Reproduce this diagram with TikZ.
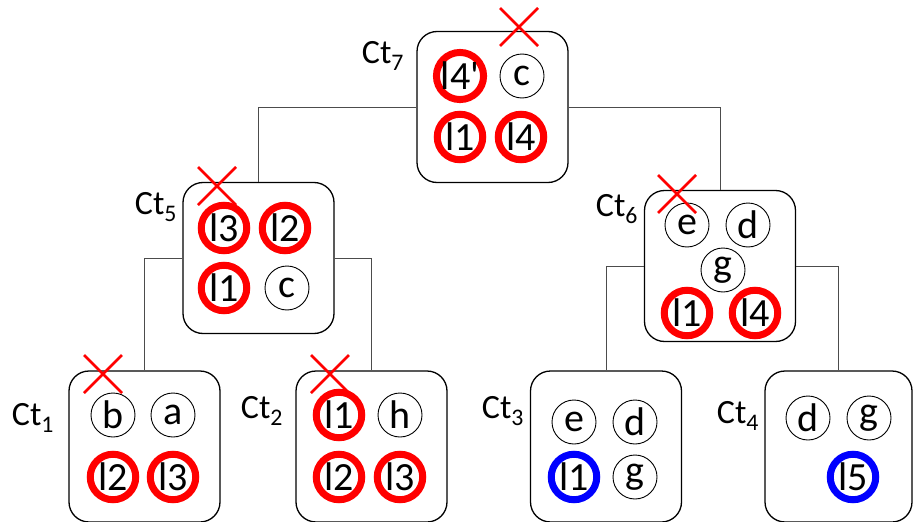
\documentclass[tikz,border=0pt]{standalone}
\usepackage{fontspec}
\setmainfont{Carlito}
\begin{document}
\begin{tikzpicture}[x=1pt,y=-1pt,
  box/.style={draw=black,line width=1.3pt,rounded corners=20pt,minimum width=151pt,minimum height=151pt,inner sep=0pt},
  lbl/.style={font=\fontsize{34}{36}\selectfont,inner sep=0pt},
  plainc/.style={circle,draw=black,line width=0.9pt,minimum size=44pt,inner sep=0pt,font=\fontsize{40}{42}\selectfont},
  redc/.style={circle,draw=red,line width=7pt,minimum size=45.5pt,inner sep=0pt,font=\fontsize{40}{42}\selectfont},
  bluec/.style={circle,draw=blue,line width=7pt,minimum size=45.5pt,inner sep=0pt,font=\fontsize{40}{42}\selectfont},
  conn/.style={draw=black!70,line width=0.9pt},
  xmark/.style={draw=red,line width=2.6pt}]
\useasboundingbox (0,0) rectangle (914,522);
% boxes
\node[box] (ct7) at (492.5,107) {};
\node[box] (ct5) at (258.5,258) {};
\node[box] (ct6) at (720,266) {};
\node[box] (ct1) at (144.5,446.5) {};
\node[box] (ct2) at (371.5,446.5) {};
\node[box] (ct3) at (606,446.5) {};
\node[box,minimum width=147pt] (ct4) at (838.5,446.5) {};
% connectors
\draw[conn] (ct7.west) -| (ct5.north);
\draw[conn] (ct7.east) -| (ct6.north);
\draw[conn] (ct5.west) -| (ct1.north);
\draw[conn] (ct5.east) -| (ct2.north);
\draw[conn] (ct6.west) -| (ct3.north);
\draw[conn] (ct6.east) -| (ct4.north);
% labels
\node[lbl] (l7) at (383,56) {Ct\textsubscript{7}};
\node[lbl] (l5) at (156,207) {Ct\textsubscript{5}};
\node[lbl] (l6) at (617,209) {Ct\textsubscript{6}};
\node[lbl] (l1) at (33,418) {Ct\textsubscript{1}};
\node[lbl] (l2) at (262,411) {Ct\textsubscript{2}};
\node[lbl] (l3) at (503,411) {Ct\textsubscript{3}};
\node[lbl] (l4) at (738,416) {Ct\textsubscript{4}};
% Ct7
\node[redc] (a1) at (460,76) {l4\textquotesingle};
\node[plainc] (a2) at (522,76) {c};
\node[redc] (a3) at (460,137) {l1};
\node[redc] (a4) at (521,137) {l4};
% Ct5
\node[redc] (b1) at (224,228) {l3};
\node[redc] (b2) at (285,228) {l2};
\node[redc] (b3) at (224,288) {l1};
\node[plainc] (b4) at (287,288) {c};
% Ct6
\node[plainc] (c1) at (687,225) {e};
\node[plainc] (c2) at (748,225) {d};
\node[plainc] (c3) at (723,270) {g};
\node[redc] (c4) at (687,313) {l1};
\node[redc] (c5) at (755,313) {l4};
% Ct1
\node[plainc] (d1) at (113,415) {b};
\node[plainc] (d2) at (173,415) {a};
\node[redc] (d3) at (113,477) {l2};
\node[redc] (d4) at (173,477) {l3};
% Ct2
\node[redc] (e1) at (339,415) {l1};
\node[plainc] (e2) at (400,415) {h};
\node[redc] (e3) at (339,477) {l2};
\node[redc] (e4) at (400,477) {l3};
% Ct3
\node[plainc] (f1) at (574,422) {e};
\node[plainc] (f2) at (635,422) {d};
\node[bluec] (f3) at (574,477) {l1};
\node[plainc] (f4) at (635,477) {g};
% Ct4
\node[plainc] (g1) at (808,418) {d};
\node[plainc] (g2) at (869,418) {g};
\node[bluec] (g3) at (853,477) {l5};
% red crosses
\coordinate (x7) at (519,27);
\coordinate (x5) at (217,186);
\coordinate (x6) at (677,194);
\coordinate (x1) at (103,374);
\coordinate (x2) at (330,374);
\foreach \p in {x7,x5,x6,x1,x2}{
  \draw[xmark] (\p) +(-19,-19) -- +(19,19);
  \draw[xmark] (\p) +(-19,19) -- +(19,-19);
}
\end{tikzpicture}
\end{document}
